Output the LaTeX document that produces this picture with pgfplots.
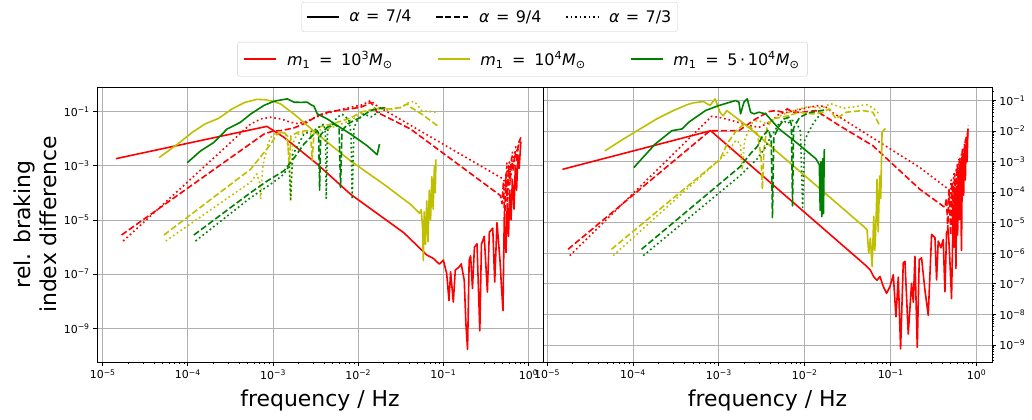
\documentclass[border=0pt]{standalone}
\usepackage{fontspec}
\setmainfont{DejaVu Sans}
\usepackage{pgfplots}
\pgfplotsset{compat=1.18}
\definecolor{mr}{RGB}{255,0,0}
\definecolor{my}{RGB}{191,191,0}
\definecolor{mg}{RGB}{0,128,0}
\definecolor{gridc}{RGB}{176,176,176}
\definecolor{legc}{RGB}{204,204,204}
\tikzset{dsh/.style={dash pattern=on 6.2bp off 2.7bp}, dtt/.style={dash pattern=on 1.7bp off 2.8bp}}
\newcommand{\lgp}[2]{\addplot[line width=1.6bp, line join=round, #1] table[x expr={10^(\thisrowno{0})}, y expr={10^(\thisrowno{1})}, row sep=\\]{#2};}
\newcommand{\sx}[1]{10\textsuperscript{#1}}
\begin{document}
\begin{tikzpicture}
\path[use as bounding box] (0,0) rectangle (1032bp,420bp);
% ---------------- left panel
\begin{axis}[scale only axis, height=275bp, width=446bp, xmode=log, ymode=log,
  at={(97bp,58bp)}, anchor=south west,
  xmin=8.57e-6, xmax=1.479, ymin=5.75e-11, ymax=0.807,
  xtick={1e-5,1e-4,1e-3,1e-2,1e-1,1},
  xticklabels={\sx{−5},\sx{−4},\sx{−3},\sx{−2},\sx{−1},\sx{0}},
  minor xtick={2e-5,3e-5,4e-5,5e-5,6e-5,7e-5,8e-5,9e-5,2e-4,3e-4,4e-4,5e-4,6e-4,7e-4,8e-4,9e-4,2e-3,3e-3,4e-3,5e-3,6e-3,7e-3,8e-3,9e-3,2e-2,3e-2,4e-2,5e-2,6e-2,7e-2,8e-2,9e-2,0.2,0.3,0.4,0.5,0.6,0.7,0.8,0.9},
  ytick={1e-9,1e-7,1e-5,1e-3,1e-1},
  yticklabels={\sx{−9},\sx{−7},\sx{−5},\sx{−3},\sx{−1}},
  xtick pos=lower, ytick pos=left, tick align=outside,
  grid=major, major grid style={gridc, line width=0.9bp},
  axis line style={line width=0.9bp},
  every tick/.style={black, line width=0.9bp},
  major tick length=3.9bp, minor tick length=2.2bp,
  tick label style={font=\fontsize{11}{13}\selectfont},
  xlabel={frequency / Hz}, xlabel style={font=\fontsize{22}{26}\selectfont, yshift=-4bp},
  ylabel={rel. braking\\index difference},
  ylabel style={align=center, font=\fontsize{22}{26}\selectfont},
]
% red m=1e3
\lgp{mr}{-4.844 -2.737\\ -3.072 -1.546\\ -2.871 -1.951\\ -2.48 -2.94\\ -2.09 -4.05\\ -1.465 -5.47\\ -1.195 -6.29\\ -1.117 -6.42\\ -1.047 -6.63\\ -1.0 -6.48\\ -0.961 -6.98\\ -0.934 -7.97\\ -0.915 -6.91\\ -0.883 -8.03\\ -0.86 -6.85\\ -0.813 -6.73\\ -0.79 -6.62\\ -0.755 -7.22\\ -0.735 -8.84\\ -0.716 -9.77\\ -0.697 -6.48\\ -0.68 -6.32\\ -0.658 -7.53\\ -0.635 -6.0\\ -0.605 -5.88\\ -0.572 -9.09\\ -0.553 -5.9\\ -0.52 -5.6\\ -0.483 -7.66\\ -0.46 -5.45\\ -0.42 -5.3\\ -0.397 -7.29\\ -0.37 -5.1\\ -0.335 -6.5\\ -0.32 -7.35\\ -0.30 -8.34\\ -0.285 -4.9\\ -0.265 -6.2\\ -0.25 -4.4\\ -0.235 -5.6\\ -0.22 -3.9\\ -0.205 -5.0\\ -0.19 -3.5\\ -0.17 -4.6\\ -0.155 -3.0\\ -0.14 -3.9\\ -0.125 -2.6\\ -0.11 -3.1\\ -0.09 -2.1\\}
\lgp{mr,dsh}{-4.778 -5.553\\ -3.105 -1.827\\ -3.0 -1.72\\ -2.90 -1.70\\ -2.75 -1.60\\ -2.598 -1.395\\ -2.48 -1.148\\ -2.363 -1.025\\ -2.246 -0.963\\ -2.09 -0.90\\ -1.973 -0.84\\ -1.90 -0.75\\ -1.855 -0.654\\ -1.82 -0.80\\ -1.777 -1.025\\ -1.621 -1.27\\ -1.387 -1.642\\ -0.33 -4.10\\ -0.31 -4.4\\ -0.295 -3.6\\ -0.28 -5.0\\ -0.265 -3.3\\ -0.25 -4.3\\ -0.235 -3.0\\ -0.22 -3.7\\ -0.20 -2.7\\ -0.18 -3.2\\ -0.16 -2.5\\ -0.14 -2.8\\ -0.12 -2.2\\ -0.09 -1.95\\}
\lgp{mr,dtt}{-4.759 -5.777\\ -3.262 -1.457\\ -3.145 -1.272\\ -3.027 -1.21\\ -2.91 -1.272\\ -2.793 -1.395\\ -2.70 -1.45\\ -2.60 -1.35\\ -2.45 -1.15\\ -2.3 -1.0\\ -2.1 -0.85\\ -1.95 -0.75\\ -1.855 -0.593\\ -1.80 -0.75\\ -0.29 -3.50\\ -0.27 -3.9\\ -0.255 -2.9\\ -0.24 -4.2\\ -0.225 -2.8\\ -0.21 -3.6\\ -0.19 -2.5\\ -0.17 -3.0\\ -0.15 -2.3\\ -0.13 -2.5\\ -0.10 -2.0\\}
% yellow m=1e4
\lgp{my}{-4.338 -2.70\\ -4.12 -2.20\\ -3.95 -1.77\\ -3.80 -1.46\\ -3.64 -1.25\\ -3.48 -0.90\\ -3.33 -0.66\\ -3.19 -0.55\\ -3.10 -0.56\\ -3.0 -0.62\\ -2.91 -0.72\\ -2.754 -1.09\\ -2.48 -1.83\\ -2.09 -2.82\\ -1.70 -3.68\\ -1.387 -4.42\\ -1.281 -4.75\\ -1.26 -4.62\\ -1.245 -5.2\\ -1.235 -6.5\\ -1.225 -4.7\\ -1.21 -5.9\\ -1.195 -4.3\\ -1.18 -5.8\\ -1.165 -3.9\\ -1.15 -5.0\\ -1.135 -3.4\\ -1.12 -4.6\\ -1.105 -3.0\\ -1.095 -4.0\\ -1.087 -2.76\\}
\lgp{my,dsh}{-4.280 -5.553\\ -3.262 -3.123\\ -3.027 -2.198\\ -2.949 -1.827\\ -2.88 -1.75\\ -2.83 -1.9\\ -2.81 -3.06\\ -2.79 -1.9\\ -2.70 -1.75\\ -2.60 -1.70\\ -2.56 -1.8\\ -2.54 -2.8\\ -2.52 -1.8\\ -2.48 -1.58\\ -2.3 -1.45\\ -2.1 -1.25\\ -1.95 -1.0\\ -1.777 -0.90\\ -1.62 -0.90\\ -1.50 -0.85\\ -1.426 -0.716\\ -1.38 -0.85\\ -1.25 -1.10\\ -1.07 -1.52\\}
\lgp{my,dtt}{-4.26 -5.777\\ -3.262 -3.60\\ -3.19 -3.3\\ -3.16 -3.6\\ -3.145 -4.235\\ -3.12 -3.0\\ -3.06 -2.2\\ -3.027 -1.951\\ -2.95 -1.75\\ -2.85 -1.8\\ -2.81 -2.6\\ -2.793 -4.296\\ -2.77 -2.2\\ -2.72 -1.85\\ -2.60 -1.75\\ -2.48 -1.70\\ -2.32 -1.60\\ -2.09 -1.33\\ -1.895 -0.963\\ -1.777 -0.85\\ -1.65 -0.95\\ -1.50 -0.85\\ -1.398 -0.65\\ -1.34 -0.63\\ -1.30 -0.78\\ -1.25 -0.98\\ -1.15 -1.0\\ -1.087 -1.02\\}
% green m=5e4
\lgp{mg}{-4.007 -2.886\\ -3.851 -2.452\\ -3.696 -2.141\\ -3.540 -1.645\\ -3.384 -1.397\\ -3.262 -1.09\\ -3.111 -0.78\\ -2.988 -0.617\\ -2.832 -0.53\\ -2.754 -0.654\\ -2.66 -0.66\\ -2.6 -0.65\\ -2.559 -0.74\\ -2.52 -0.80\\ -2.48 -1.086\\ -2.363 -1.272\\ -2.246 -1.519\\ -2.09 -1.827\\ -1.895 -2.26\\ -1.777 -2.593\\ -1.75 -2.198\\}
\lgp{mg,dsh}{-3.929 -5.553\\ -3.262 -3.988\\ -3.066 -3.556\\ -2.871 -3.185\\ -2.75 -2.7\\ -2.637 -2.2\\ -2.559 -1.951\\ -2.48 -1.704\\ -2.465 -1.8\\ -2.453 -3.90\\ -2.44 -1.85\\ -2.363 -1.58\\ -2.285 -1.457\\ -2.225 -1.6\\ -2.207 -3.80\\ -2.19 -1.7\\ -2.12 -1.45\\ -1.973 -1.21\\ -1.855 -0.963\\ -1.75 -0.88\\ -1.65 -0.85\\}
\lgp{mg,dtt}{-3.910 -5.777\\ -3.262 -4.173\\ -3.027 -3.68\\ -2.871 -3.309\\ -2.81 -3.0\\ -2.793 -4.235\\ -2.77 -2.6\\ -2.637 -1.827\\ -2.52 -1.70\\ -2.402 -1.457\\ -2.385 -1.8\\ -2.375 -4.2\\ -2.36 -1.7\\ -2.246 -1.21\\ -2.187 -1.1\\ -2.11 -1.3\\ -2.085 -1.8\\ -2.07 -4.235\\ -2.05 -1.6\\ -2.012 -1.33\\ -1.934 -1.086\\ -1.85 -1.2\\ -1.777 -1.05\\ -1.72 -1.0\\}
\end{axis}
% ---------------- right panel
\begin{axis}[scale only axis, height=275bp, width=449bp, xmode=log, ymode=log,
  at={(543bp,58bp)}, anchor=south west,
  xmin=8.97e-6, xmax=1.514, ymin=2.77e-10, ymax=0.277,
  xtick={1e-5,1e-4,1e-3,1e-2,1e-1,1},
  xticklabels={\sx{−5},\sx{−4},\sx{−3},\sx{−2},\sx{−1},\sx{0}},
  minor xtick={2e-5,3e-5,4e-5,5e-5,6e-5,7e-5,8e-5,9e-5,2e-4,3e-4,4e-4,5e-4,6e-4,7e-4,8e-4,9e-4,2e-3,3e-3,4e-3,5e-3,6e-3,7e-3,8e-3,9e-3,2e-2,3e-2,4e-2,5e-2,6e-2,7e-2,8e-2,9e-2,0.2,0.3,0.4,0.5,0.6,0.7,0.8,0.9},
  ytick={1e-9,1e-8,1e-7,1e-6,1e-5,1e-4,1e-3,1e-2,1e-1},
  yticklabels={\sx{−9},\sx{−8},\sx{−7},\sx{−6},\sx{−5},\sx{−4},\sx{−3},\sx{−2},\sx{−1}},
  minor ytick={3e-10,4e-10,5e-10,6e-10,7e-10,8e-10,9e-10,2e-9,3e-9,4e-9,5e-9,6e-9,7e-9,8e-9,9e-9,2e-8,3e-8,4e-8,5e-8,6e-8,7e-8,8e-8,9e-8,2e-7,3e-7,4e-7,5e-7,6e-7,7e-7,8e-7,9e-7,2e-6,3e-6,4e-6,5e-6,6e-6,7e-6,8e-6,9e-6,2e-5,3e-5,4e-5,5e-5,6e-5,7e-5,8e-5,9e-5,2e-4,3e-4,4e-4,5e-4,6e-4,7e-4,8e-4,9e-4,2e-3,3e-3,4e-3,5e-3,6e-3,7e-3,8e-3,9e-3,2e-2,3e-2,4e-2,5e-2,6e-2,7e-2,8e-2,9e-2,0.2},
  xtick pos=lower, ytick pos=right, yticklabel pos=right, tick align=outside,
  grid=major, major grid style={gridc, line width=0.9bp},
  axis line style={line width=0.9bp},
  every tick/.style={black, line width=0.9bp},
  major tick length=3.9bp, minor tick length=2.2bp,
  tick label style={font=\fontsize{11}{13}\selectfont},
  xlabel={frequency / Hz}, xlabel style={font=\fontsize{22}{26}\selectfont, yshift=-4bp},
]
\lgp{mr}{-4.821 -3.253\\ -3.095 -1.989\\ -1.295 -6.385\\ -1.236 -6.55\\ -1.197 -6.77\\ -1.159 -6.88\\ -1.124 -6.76\\ -1.085 -7.09\\ -1.047 -7.31\\ -1.008 -7.09\\ -0.969 -6.70\\ -0.938 -8.08\\ -0.911 -6.78\\ -0.884 -9.13\\ -0.853 -6.32\\ -0.833 -6.26\\ -0.795 -8.64\\ -0.756 -6.98\\ -0.736 -7.6\\ -0.717 -6.10\\ -0.690 -9.08\\ -0.667 -6.21\\ -0.640 -6.15\\ -0.601 -7.2\\ -0.562 -8.03\\ -0.523 -5.38\\ -0.484 -5.49\\ -0.465 -6.87\\ -0.446 -5.60\\ -0.415 -5.82\\ -0.388 -5.55\\ -0.368 -7.26\\ -0.349 -5.32\\ -0.329 -5.21\\ -0.310 -6.26\\ -0.291 -7.48\\ -0.271 -4.44\\ -0.26 -5.8\\ -0.25 -4.0\\ -0.24 -6.5\\ -0.23 -3.8\\ -0.22 -5.4\\ -0.21 -3.3\\ -0.20 -4.9\\ -0.19 -3.0\\ -0.175 -5.9\\ -0.165 -2.8\\ -0.15 -4.1\\ -0.14 -2.5\\ -0.13 -3.6\\ -0.12 -2.2\\ -0.11 -3.0\\ -0.10 -1.93\\}
\lgp{mr,dsh}{-4.755 -5.868\\ -3.103 -1.989\\ -2.766 -1.986\\ -2.571 -1.602\\ -2.415 -1.361\\ -2.337 -1.329\\ -2.259 -1.383\\ -2.201 -1.274\\ -2.142 -1.383\\ -2.025 -1.383\\ -1.869 -1.329\\ -1.596 -1.821\\ -1.207 -2.479\\ -0.661 -3.902\\ -0.368 -4.50\\ -0.35 -4.2\\ -0.335 -5.2\\ -0.32 -3.9\\ -0.30 -5.4\\ -0.285 -3.7\\ -0.27 -4.8\\ -0.255 -3.4\\ -0.24 -4.4\\ -0.225 -3.1\\ -0.21 -3.9\\ -0.195 -2.9\\ -0.18 -3.5\\ -0.165 -2.6\\ -0.15 -3.0\\ -0.13 -2.3\\ -0.11 -2.2\\ -0.095 -1.82\\}
\lgp{mr,dtt}{-4.736 -6.077\\ -3.083 -1.516\\ -3.0 -1.548\\ -2.844 -1.657\\ -2.649 -1.821\\ -2.532 -1.876\\ -2.40 -1.70\\ -2.298 -1.438\\ -2.142 -1.35\\ -1.947 -1.219\\ -1.830 -1.164\\ -1.752 -1.219\\ -1.674 -1.40\\ -0.661 -3.191\\ -0.323 -3.912\\ -0.31 -4.5\\ -0.295 -3.6\\ -0.28 -4.9\\ -0.265 -3.4\\ -0.25 -4.6\\ -0.235 -3.2\\ -0.22 -4.2\\ -0.205 -2.9\\ -0.19 -3.7\\ -0.175 -2.7\\ -0.16 -3.2\\ -0.14 -2.4\\ -0.12 -2.6\\ -0.10 -2.0\\}
\lgp{my}{-4.327 -2.648\\ -4.113 -2.264\\ -3.919 -1.934\\ -3.725 -1.604\\ -3.530 -1.330\\ -3.375 -1.143\\ -3.297 -1.077\\ -3.180 -1.033\\ -3.103 -1.165\\ -3.044 -0.945\\ -2.986 -1.385\\ -2.95 -1.50\\ -2.908 -1.330\\ -2.830 -1.495\\ -2.675 -1.824\\ -1.314 -5.121\\ -1.275 -5.231\\ -1.255 -6.0\\ -1.236 -5.5\\ -1.215 -6.44\\ -1.197 -4.79\\ -1.185 -5.9\\ -1.178 -5.56\\ -1.165 -4.5\\ -1.159 -3.58\\ -1.145 -5.3\\ -1.127 -3.47\\ -1.115 -4.2\\ -1.100 -2.044\\ -1.061 -1.912\\}
\lgp{my,dsh}{-4.250 -5.868\\ -2.986 -2.923\\ -2.90 -2.4\\ -2.80 -2.0\\ -2.72 -1.8\\ -2.62 -1.9\\ -2.55 -2.1\\ -2.51 -2.8\\ -2.493 -3.90\\ -2.475 -2.6\\ -2.44 -1.9\\ -2.376 -1.602\\ -2.181 -1.493\\ -2.064 -1.383\\ -1.908 -1.438\\ -1.791 -1.383\\ -1.713 -1.274\\ -1.635 -1.6\\ -1.518 -1.383\\ -1.323 -1.329\\ -1.206 -1.383\\ -1.128 -1.821\\}
\lgp{my,dtt}{-4.230 -6.077\\ -2.90 -2.7\\ -2.80 -2.3\\ -2.75 -2.4\\ -2.727 -3.25\\ -2.70 -2.3\\ -2.62 -1.75\\ -2.55 -1.65\\ -2.45 -1.75\\ -2.35 -1.60\\ -2.25 -1.45\\ -2.10 -1.30\\ -1.95 -1.20\\ -1.80 -1.25\\ -1.70 -1.10\\ -1.55 -1.25\\ -1.40 -1.2\\ -1.32 -1.15\\ -1.275 -1.14\\ -1.20 -1.25\\ -1.13 -1.45\\}
\lgp{mg}{-3.989 -3.198\\ -3.936 -3.026\\ -3.741 -2.424\\ -3.546 -1.986\\ -3.429 -1.931\\ -3.351 -1.712\\ -3.156 -1.329\\ -3.0 -1.164\\ -2.805 -1.0\\ -2.766 -1.055\\ -2.747 -1.438\\ -2.708 -1.055\\ -2.669 -0.945\\ -2.630 -1.383\\ -2.591 -1.438\\ -2.532 -1.383\\ -2.454 -1.438\\ -2.298 -1.931\\ -2.103 -2.36\\ -1.869 -2.91\\ -1.830 -3.1\\ -1.820 -4.6\\ -1.811 -3.0\\ -1.80 -4.8\\ -1.79 -2.9\\ -1.782 -4.7\\ -1.772 -2.588\\}
\lgp{mg,dsh}{-3.900 -5.868\\ -2.75 -3.16\\ -2.62 -2.7\\ -2.55 -2.5\\ -2.50 -2.2\\ -2.42 -1.95\\ -2.39 -2.3\\ -2.376 -4.83\\ -2.36 -2.2\\ -2.30 -1.85\\ -2.24 -1.6\\ -2.18 -1.55\\ -2.155 -1.8\\ -2.142 -4.45\\ -2.13 -1.9\\ -2.06 -1.55\\ -1.95 -1.40\\ -1.85 -1.35\\ -1.75 -1.30\\}
\lgp{mg,dtt}{-3.880 -6.077\\ -2.75 -3.45\\ -2.55 -2.9\\ -2.45 -2.5\\ -2.40 -2.2\\ -2.35 -2.0\\ -2.30 -1.75\\ -2.25 -1.65\\ -2.20 -1.75\\ -2.15 -1.65\\ -2.10 -1.7\\ -2.05 -2.0\\ -2.025 -4.5\\ -2.00 -2.3\\ -1.95 -2.0\\ -1.90 -1.75\\ -1.85 -1.55\\ -1.80 -1.45\\}
\end{axis}
% ---------------- legends
\begin{axis}[at={(0bp,0bp)}, anchor=south west, scale only axis, width=1032bp, height=420bp,
  hide axis, xmin=0, xmax=1, ymin=0, ymax=1,
  legend columns=3,
  legend style={at={(0.4743,0.9952)}, anchor=north, draw=legc, rounded corners=2bp, fill=white,
    font=\fontsize{16}{19}\selectfont, inner xsep=4bp, inner ysep=6bp,
    /tikz/every odd column/.append style={column sep=8bp},
    /tikz/every even column/.append style={column sep=22bp}},
  legend image code/.code={\draw[#1] (0bp,0bp) -- (32bp,0bp);},
]
\addlegendimage{black, line width=1.6bp}
\addlegendentry{\textit{α}\hspace{0.4em}=\hspace{0.4em}7/4}
\addlegendimage{black, line width=1.6bp, dsh}
\addlegendentry{\textit{α}\hspace{0.4em}=\hspace{0.4em}9/4}
\addlegendimage{black, line width=1.6bp, dtt}
\addlegendentry{\textit{α}\hspace{0.4em}=\hspace{0.4em}7/3}
\end{axis}
\begin{axis}[at={(0bp,0bp)}, anchor=south west, scale only axis, width=1032bp, height=420bp,
  hide axis, xmin=0, xmax=1, ymin=0, ymax=1,
  legend columns=3,
  legend style={at={(0.5063,0.9)}, anchor=north, draw=legc, rounded corners=2bp, fill=white,
    font=\fontsize{16}{19}\selectfont, inner xsep=6bp, inner ysep=7bp,
    /tikz/every odd column/.append style={column sep=8bp},
    /tikz/every even column/.append style={column sep=42bp}},
  legend image code/.code={\draw[#1] (0bp,0bp) -- (32bp,0bp);},
]
\addlegendimage{mr, line width=1.6bp}
\addlegendentry{\textit{m}\textsubscript{1}\hspace{0.55em}=\hspace{0.55em}10\textsuperscript{3}\textit{M}\textsubscript{⊙}}
\addlegendimage{my, line width=1.6bp}
\addlegendentry{\textit{m}\textsubscript{1}\hspace{0.55em}=\hspace{0.55em}10\textsuperscript{4}\textit{M}\textsubscript{⊙}}
\addlegendimage{mg, line width=1.6bp}
\addlegendentry{\textit{m}\textsubscript{1}\hspace{0.55em}=\hspace{0.55em}5\,·\,10\textsuperscript{4}\textit{M}\textsubscript{⊙}}
\end{axis}
\end{tikzpicture}
\end{document}
